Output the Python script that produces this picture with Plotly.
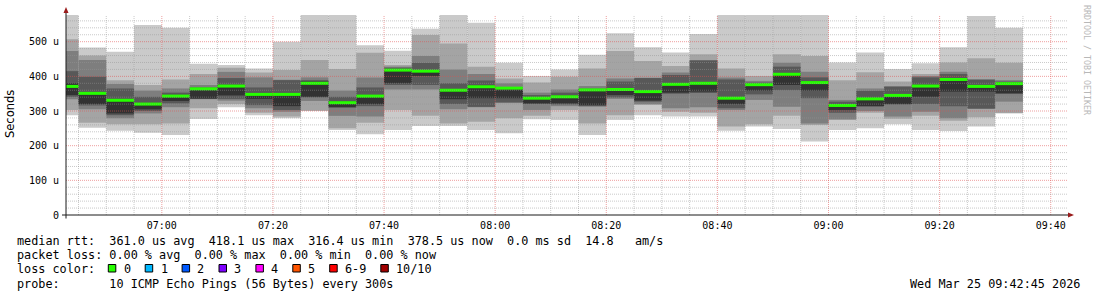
import plotly.graph_objects as go
from datetime import datetime, timedelta

# ---------------- data ----------------
day = "2026-03-25"
# end stamps of the 5-minute intervals
times = ["06:45", "06:50", "06:55", "07:00", "07:05", "07:10", "07:15", "07:20",
         "07:25", "07:30", "07:35", "07:40", "07:45", "07:50", "07:55", "08:00",
         "08:05", "08:10", "08:15", "08:20", "08:25", "08:30", "08:35", "08:40",
         "08:45", "08:50", "08:55", "09:00", "09:05", "09:10", "09:15", "09:20",
         "09:25", "09:30", "09:35"]

# sorted ping rtts (microseconds), p1 = fastest ... p10 = slowest
p1 = [288, 252, 243, 237, 231, 277, 311, 288, 279, 300, 245, 233, 245, 257, 257, 245, 236, 276, 274, 231, 274, 288, 284, 284, 243, 255, 248, 212, 245, 250, 262, 245, 242, 255, 293]
p2 = [303, 266, 262, 262, 264, 308, 320, 295, 284, 301, 250, 266, 303, 286, 264, 269, 279, 286, 303, 264, 288, 317, 298, 295, 255, 262, 286, 260, 274, 295, 278, 286, 272, 282, 294]
p3 = [334, 305, 279, 293, 311, 334, 330, 308, 298, 329, 286, 284, 362, 362, 305, 311, 323, 303, 314, 313, 335, 320, 308, 311, 303, 332, 312, 264, 276, 300, 284, 298, 279, 306, 327]
p4 = [341, 316, 288, 300, 322, 335, 335, 317, 303, 339, 310, 314, 375, 375, 320, 312, 325, 320, 319, 314, 339, 327, 350, 352, 308, 348, 360, 337, 295, 313, 319, 320, 314, 307, 350]
p5 = [346, 320, 293, 305, 329, 336, 345, 335, 314, 341, 311, 320, 380, 401, 334, 337, 337, 322, 322, 317, 346, 330, 353, 356, 320, 359, 375, 359, 303, 314, 320, 341, 356, 356, 351]
p6 = [380, 352, 333, 322, 345, 366, 375, 350, 352, 385, 327, 346, 420, 418, 363, 373, 367, 340, 344, 363, 365, 359, 380, 383, 340, 378, 409, 385, 319, 338, 348, 375, 394, 374, 382]
p7 = [415, 399, 365, 341, 353, 368, 395, 368, 389, 389, 341, 368, 425, 439, 380, 388, 368, 346, 353, 364, 385, 395, 404, 446, 391, 382, 428, 397, 327, 358, 370, 397, 407, 390, 385]
p8 = [473, 447, 378, 359, 365, 375, 413, 397, 390, 397, 359, 397, 428, 459, 420, 407, 380, 353, 362, 372, 394, 396, 411, 447, 397, 387, 439, 413, 332, 365, 372, 401, 413, 392, 389]
p9 = [507, 460, 389, 375, 391, 407, 425, 411, 418, 447, 421, 468, 433, 519, 495, 428, 394, 382, 399, 423, 473, 444, 430, 464, 423, 401, 464, 459, 389, 412, 385, 407, 440, 452, 439]
p10 = [577, 483, 471, 548, 540, 436, 433, 423, 500, 577, 577, 490, 474, 537, 577, 555, 439, 401, 420, 462, 524, 484, 469, 522, 577, 577, 577, 577, 440, 469, 421, 438, 484, 574, 540]
median = [371, 351, 331, 320, 343, 364, 372, 348, 348, 380, 324, 343, 418, 415, 360, 370, 366, 337, 341, 361, 362, 356, 377, 380, 337, 376, 406, 382, 316, 335, 345, 372, 391, 371, 379]

ytick_vals = [0, 100, 200, 300, 400, 500]
ytick_text = ["0", "100 u", "200 u", "300 u", "400 u", "500 u"]

loss_labels = ["0", "1", "2", "3", "4", "5", "6-9", "10/10"]
loss_colors = ["#26ff00", "#00b8ff", "#0059ff", "#7e00ff", "#ff00ff", "#ff5500", "#ff0000", "#a10000"]

legend_lines = [
    "median rtt:  361.0 us avg  418.1 us max  316.4 us min  378.5 us now  0.0 ms sd  14.8   am/s",
    "packet loss: 0.00 % avg  0.00 % max  0.00 % min  0.00 % now",
    "loss color:",
    "probe:       10 ICMP Echo Pings (56 Bytes) every 300s",
]
stamp = "Wed Mar 25 09:42:45 2026"

# ---------------- geometry ----------------
W, H = 1097, 297
L, R, T, B = 66, 31, 15, 82
PW, PH = W - L - R, H - T - B
YMAX = 577
t_start = datetime(2026, 3, 25, 6, 42, 45)
t_end = datetime(2026, 3, 25, 9, 42, 45)


def px(x):
    return (x - L) / PW


def py(y):
    return (T + PH - y) / PH


MONO = "DejaVu Sans Mono"
step = timedelta(minutes=5)
ends = [datetime.strptime(day + " " + t, "%Y-%m-%d %H:%M") for t in times]
centers = [e - step / 2 for e in ends]
starts = [e - step for e in ends]

fig = go.Figure()

shades = ["#cacaca", "#a4a4a4", "#7e7e7e", "#585858", "#323232"]
lows = [p1, p2, p3, p4, p5]
highs = [p10, p9, p8, p7, p6]
for lo, hi, col in zip(lows, highs, shades):
    fig.add_trace(go.Bar(
        x=centers, base=lo, y=[h - l for h, l in zip(hi, lo)],
        width=300000, marker=dict(color=col, line=dict(width=0)),
        hoverinfo="skip", showlegend=False))

mx, my = [], []
for s, e, m in zip(starts, ends, median):
    mx += [s, e, None]
    my += [m, m, None]
fig.add_trace(go.Scatter(x=mx, y=my, mode="lines",
                         line=dict(color="#26ff00", width=3),
                         hoverinfo="skip", showlegend=False))

shapes = []
# grid on top
MINOR = "rgba(150,150,150,0.5)"
MAJOR = "rgba(224,80,80,0.55)"
t = datetime(2026, 3, 25, 6, 45)
while t <= datetime(2026, 3, 25, 9, 40):
    major = (t.minute % 20 == 0)
    shapes.append(dict(type="line", xref="x", yref="y", x0=t, x1=t, y0=0, y1=YMAX,
                       line=dict(color=MAJOR if major else MINOR, width=1, dash="1px,1px"),
                       layer="above"))
    t += step
for v in range(20, 580, 20):
    major = (v % 100 == 0)
    shapes.append(dict(type="line", xref="paper", yref="y", x0=0, x1=px(1068), y0=v, y1=v,
                       line=dict(color=MAJOR if major else MINOR, width=1, dash="1px,1px"),
                       layer="above"))

# axis lines & arrows
AX = "#1a1a1a"
ARROW = "#9a1c1c"
shapes.append(dict(type="line", xref="paper", yref="paper", x0=px(62), x1=px(1069),
                   y0=py(215), y1=py(215), line=dict(color=AX, width=1), layer="above"))
shapes.append(dict(type="line", xref="paper", yref="paper", x0=px(66), x1=px(66),
                   y0=py(218.5), y1=py(10), line=dict(color=AX, width=1), layer="above"))
shapes.append(dict(type="path", xref="paper", yref="paper",
                   path=f"M {px(1068)},{py(212.5)} L {px(1074)},{py(215)} L {px(1068)},{py(217.5)} Z",
                   fillcolor=ARROW, line=dict(color=ARROW, width=0), layer="above"))
shapes.append(dict(type="path", xref="paper", yref="paper",
                   path=f"M {px(63.5)},{py(13)} L {px(66)},{py(7)} L {px(68.5)},{py(13)} Z",
                   fillcolor=ARROW, line=dict(color=ARROW, width=0), layer="above"))

annotations = []


def text(x, y, s, size=11.8, family=MONO, color="#000", anchor="left", angle=0):
    annotations.append(dict(xref="paper", yref="paper", x=px(x), y=py(y), text=s,
                            showarrow=False, xanchor=anchor, yanchor="middle",
                            textangle=angle, borderpad=0,
                            font=dict(family=family, size=size, color=color)))


CW = 7.1
line_y = [241.3, 255.3, 269.3, 283.5]
for s, yy in zip(legend_lines, line_y):
    text(16, yy, s.replace(" ", "&nbsp;"))
text(1081, line_y[3], stamp.replace(" ", "&nbsp;"), anchor="right")

bx = 108.3
for lab, col in zip(loss_labels, loss_colors):
    shapes.append(dict(type="rect", xref="paper", yref="paper",
                       x0=px(bx), x1=px(bx + 7.5), y0=py(264.5), y1=py(272),
                       fillcolor=col, line=dict(color="#000", width=1), layer="above"))
    text(bx + 14.3, line_y[2], lab)
    bx += 14.3 + len(lab) * CW + 15.5

text(10, 114, "Seconds", size=11.5, family="DejaVu Sans", angle=-90, anchor="center")
text(1087, 60, "RRDTOOL&nbsp;/&nbsp;TOBI&nbsp;OETIKER", size=8.3, color="#b8b8b8", angle=90, anchor="center")

fig.update_layout(
    width=W, height=H,
    margin=dict(l=L, r=R, t=T, b=B, pad=0),
    barmode="overlay",
    paper_bgcolor="white", plot_bgcolor="white",
    showlegend=False,
    shapes=shapes, annotations=annotations,
    xaxis=dict(type="date", range=[t_start, t_end],
               tick0=datetime(2026, 3, 25, 7, 0), dtick=1200000, tickformat="%H:%M",
               showgrid=False, zeroline=False, showline=False, ticks="",
               ticklabelstandoff=3,
               tickfont=dict(family=MONO, size=10, color="#000")),
    yaxis=dict(range=[0, YMAX], tickmode="array", tickvals=ytick_vals, ticktext=ytick_text,
               showgrid=False, zeroline=False, showline=False, ticks="",
               ticklabelstandoff=6,
               tickfont=dict(family=MONO, size=10, color="#000")),
)

fig.write_html("out.html")
